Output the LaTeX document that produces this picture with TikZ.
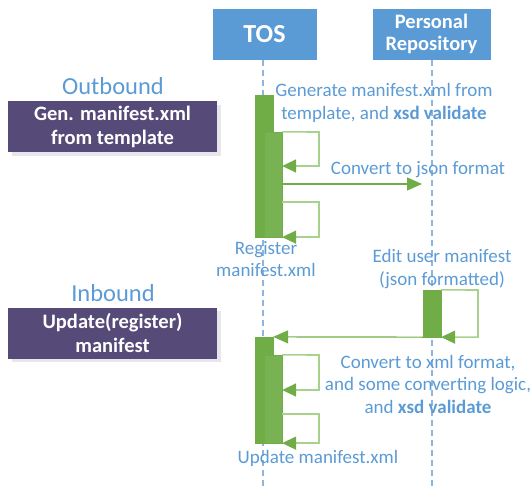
\documentclass[tikz,border=0pt]{standalone}
\usepackage{fontspec}
\setmainfont{Carlito}
\usetikzlibrary{arrows.meta}
\definecolor{hdrblue}{HTML}{5B9BD5}
\definecolor{txtblue}{HTML}{5B9BD5}
\definecolor{lifeblue}{HTML}{8FB4DE}
\definecolor{actgreen}{HTML}{70AD47}
\definecolor{loopgreen}{HTML}{A9D18E}
\definecolor{purplebox}{HTML}{554A78}
\definecolor{shadowgray}{HTML}{E6E6EC}
\tikzset{
  header/.style={fill=hdrblue, draw=white, line width=0.8pt, text=white, font=\bfseries, align=center, inner sep=0pt, minimum height=52pt},
  lifeline/.style={draw=lifeblue, line width=1.2pt, dash pattern=on 6pt off 4pt},
  actbar/.style={fill=actgreen, draw=actgreen, line width=0.3pt, inner sep=0pt, minimum width=18pt},
  loopline/.style={draw=loopgreen, line width=1.6pt, -{Triangle[length=14pt,width=13pt,color=actgreen,fill=actgreen]}},
  msgline/.style={draw=actgreen, line width=1.2pt, -{Triangle[length=15pt,width=13pt,color=actgreen,fill=actgreen]}},
  lbl/.style={text=txtblue, align=center, font=\fontsize{19}{22.5}\selectfont, inner sep=0pt},
  phase/.style={text=txtblue, font=\fontsize{24.5}{28}\selectfont, inner sep=0pt},
  phasebox/.style={fill=purplebox, text=white, font=\bfseries\fontsize{20.5}{24}\selectfont, align=center, inner sep=0pt, minimum width=209pt, minimum height=51pt},
  phaseshadow/.style={fill=shadowgray, inner sep=0pt, minimum width=209pt, minimum height=51pt}
}
\begin{document}
\begin{tikzpicture}[x=1pt,y=-1pt]
\useasboundingbox (0,0) rectangle (532,489);
% headers
\node[header, minimum width=105pt, font=\bfseries\fontsize{26}{30}\selectfont] (tos) at (264.5,34) {TOS};
\node[header, minimum width=119pt, font=\bfseries\fontsize{20.5}{22}\selectfont] (rep) at (431.5,34) {Personal\\Repository};
% lifelines
\coordinate (tosend) at (263,489);
\coordinate (repend) at (432,489);
\draw[lifeline] (tos.south -| tosend) -- (tosend);
\draw[lifeline] (rep.south -| repend) -- (repend);
% phase boxes
\node[phase] (outl) at (113,86) {Outbound};
\node[phaseshadow] (outsh) at (116.5,130.5) {};
\node[phasebox] (outb) at (112.5,127) {Gen. manifest.xml\\from template};
\node[phase] (inl) at (113,293) {Inbound};
\node[phaseshadow] (insh) at (116.5,336.5) {};
\node[phasebox] (inb) at (112.5,333) {Update(register)\\manifest};
% outbound activation
\node[actbar, minimum height=142pt] (b1) at (264,166) {};
\node[actbar, minimum height=105pt, fill=actgreen!94!white] (b1n) at (273,184.5) {};
\coordinate (l1r) at (319,132);
\coordinate (l1b) at (319,166);
\draw[loopline] (b1n.north east) -- (l1r) -- (l1b) -- (b1n.east |- l1b);
\coordinate (l2t) at (319,202);
\draw[loopline] (b1n.east |- l2t) -- (l2t) -- (b1n.south -| l2t) -- (b1n.south east);
\coordinate (jsonend) at (422,184);
\draw[msgline] (b1n.east |- jsonend) -- (jsonend);
\node[lbl] (gen) at (384,103) {Generate manifest.xml from\\template, and \textbf{xsd validate}};
\node[lbl] (conj) at (418,170) {Convert to json format};
\node[lbl] (reg) at (266,259) {Register\\manifest.xml};
% inbound
\node[actbar, minimum height=47pt] (pb) at (432,313.5) {};
\coordinate (l3r) at (478,290);
\draw[loopline] (pb.north east) -- (l3r) -- (pb.south -| l3r) -- (pb.south east);
\node[actbar, minimum height=106pt] (b2) at (264,390) {};
\node[actbar, minimum height=88pt, fill=actgreen!94!white] (b2n) at (273,399) {};
\draw[msgline] (pb.south west) -- (b2.north east);
\coordinate (l4r) at (319,355);
\coordinate (l4b) at (319,390);
\draw[loopline] (b2n.north east) -- (l4r) -- (l4b) -- (b2n.east |- l4b);
\coordinate (l5t) at (319,414);
\draw[loopline] (b2n.east |- l5t) -- (l5t) -- (b2n.south -| l5t) -- (b2n.south east);
\node[lbl] (edit) at (442,269) {Edit user manifest\\(json formatted)};
\node[lbl] (conx) at (428,384) {Convert to xml format,\\and some converting logic,\\and \textbf{xsd validate}};
\node[lbl] (upd) at (318,458) {Update manifest.xml};
\end{tikzpicture}
\end{document}
